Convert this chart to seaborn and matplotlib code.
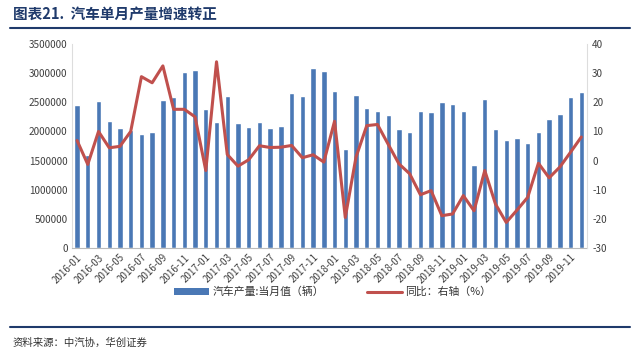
import numpy as np
import pandas as pd
import matplotlib
matplotlib.use("Agg")
import matplotlib.pyplot as plt
import seaborn as sns
from matplotlib.lines import Line2D
from matplotlib.patches import Patch

sns.set_style("white")
plt.rcParams['font.family'] = ['Noto Sans CJK SC', 'DejaVu Sans']

months = [f"{y}-{m:02d}" for y in range(2016, 2020) for m in range(1, 13)]
production = [2446000, 1590000, 2526000, 2176000, 2067000, 2030000, 1963000, 1998000,
              2532000, 2595000, 3014000, 3060000,
              2377000, 2159000, 2606000, 2141000, 2084000, 2170000, 2055000, 2095000,
              2664000, 2606000, 3083000, 3043000,
              2690000, 1705000, 2620000, 2400000, 2350000, 2290000, 2040000, 1998000,
              2354000, 2330000, 2503000, 2474000,
              2354000, 1418000, 2560000, 2050000, 1854000, 1894000, 1797000, 1992000,
              2210000, 2302000, 2595000, 2675000]
yoy = [6.9, -1.3, 10.0, 4.4, 4.9, 10.0, 28.8, 26.7, 32.5, 17.6, 17.6, 15.0,
       -3.4, 33.9, 2.1, -1.9, 0.3, 5.1, 4.5, 4.6, 5.2, 1.0, 2.0, -0.5,
       13.5, -19.5, 1.2, 12.0, 12.4, 5.6, -1.1, -4.5, -11.7, -10.3, -18.9, -18.3,
       -12.0, -17.2, -3.4, -14.9, -21.2, -17.0, -12.6, -0.9, -5.9, -2.2, 2.9, 8.1]

df = pd.DataFrame({"month": months, "prod": production, "yoy": yoy,
                   "pos": np.arange(len(months))})

bar_color = "#4A78B5"
line_color = "#C0504D"
navy = "#1F3A6B"
tick_color = "#404040"

fig = plt.figure(figsize=(6.4, 3.59), dpi=100)
ax = fig.add_axes([0.112, 0.309, 0.8047, 0.5684])

sns.barplot(data=df, x="month", y="prod", color=bar_color, width=0.5,
            saturation=1, ax=ax, order=months)
ax.set_ylim(0, 3500000)
ax.set_xlim(-0.5, len(months) - 0.5)
ax.set_yticks(np.arange(0, 3500001, 500000))
ax.set_yticklabels([str(v) for v in range(0, 3500001, 500000)], fontsize=7.2, color=tick_color)
ax.set_xticks(np.arange(0, len(months), 2))
ax.set_xticklabels(months[::2], rotation=45, ha="right", rotation_mode="anchor",
                   fontsize=7, color=tick_color)
ax.set_xlabel("")
ax.set_ylabel("")
ax.tick_params(axis="both", length=0, pad=3)
for s in ["top", "right"]:
    ax.spines[s].set_visible(False)
ax.spines["left"].set_color("#DDDDDD")
ax.spines["bottom"].set_color("#BBBBBB")

ax2 = ax.twinx()
sns.lineplot(data=df, x="pos", y="yoy", color=line_color, linewidth=2.2, ax=ax2)
ax2.set_ylim(-30, 40)
ax2.set_xlim(-0.5, len(months) - 0.5)
ax2.set_yticks(np.arange(-30, 41, 10))
ax2.set_yticklabels([str(v) for v in range(-30, 41, 10)], fontsize=7.2, color=tick_color)
ax2.set_ylabel("")
ax2.set_xlabel("")
ax2.tick_params(axis="y", length=0, pad=4)
for s in ["top", "left", "bottom"]:
    ax2.spines[s].set_visible(False)
ax2.spines["right"].set_color("#DDDDDD")

handles = [Patch(facecolor=bar_color, edgecolor="none"),
           Line2D([0], [0], color=line_color, linewidth=2.2)]
fig.legend(handles, ["汽车产量:当月值（辆）", "同比：右轴（%）"], loc="center",
           bbox_to_anchor=(0.52, 0.187), ncol=2, frameon=False, fontsize=7.8,
           handlelength=3.2, handleheight=0.6, columnspacing=4, handletextpad=0.3,
           labelcolor="#333333")

fig.text(0.02, 0.96, "图表21.  汽车单月产量增速转正", fontsize=10.5, fontweight="bold",
         color=navy, va="center", ha="left")
fig.add_artist(Line2D([0.015, 0.985], [0.922, 0.922], color=navy, linewidth=1.5,
                      transform=fig.transFigure))
fig.add_artist(Line2D([0.015, 0.985], [0.09, 0.09], color=navy, linewidth=1.5,
                      transform=fig.transFigure))
fig.text(0.02, 0.045, "资料来源：中汽协，华创证券", fontsize=7.5, style="italic",
         color="#333333", va="center", ha="left")

fig.savefig("out.png", dpi=100)
